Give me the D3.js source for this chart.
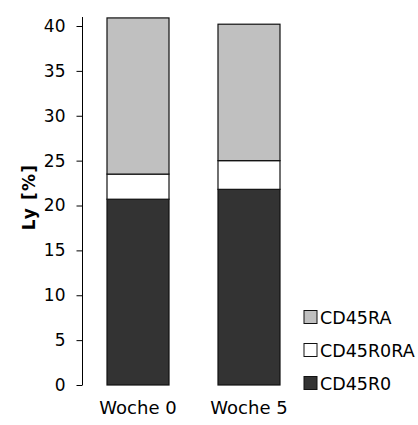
<!DOCTYPE html>
<html>
<head>
<meta charset="utf-8">
<script src="https://cdn.jsdelivr.net/npm/d3@7"></script>
<style>
  html, body { margin: 0; padding: 0; background: #fff; }
  svg { display: block; }
  text { font-family: "DejaVu Sans", Verdana, sans-serif; fill: #000; }
</style>
</head>
<body>
<div id="chart"></div>
<script>
// Lymphocyte subsets, stacked per week
const groups = ["Woche 0", "Woche 5"];
const seriesNames = ["CD45R0", "CD45R0RA", "CD45RA"];
const cd45r0 = [20.7, 21.8];
const cd45r0ra = [2.8, 3.2];
const cd45ra = [17.4, 15.2];
const yTicks = [0, 5, 10, 15, 20, 25, 30, 35, 40];
const colors = ["#333333", "#ffffff", "#c0c0c0"];

const W = 418, H = 425;
const svg = d3.select("#chart").append("svg").attr("width", W).attr("height", H);

const rows = groups.map((g, i) => ({ group: g, CD45R0: cd45r0[i], CD45R0RA: cd45r0ra[i], CD45RA: cd45ra[i] }));
const stacked = d3.stack().keys(seriesNames)(rows);

const y = d3.scaleLinear().domain([0, 40]).range([385, 26]);
const x = d3.scaleBand().domain(groups).range([107, 280]).paddingInner(0.4414).paddingOuter(0);

// bars
svg.append("g").selectAll("g").data(stacked).join("g")
  .attr("fill", (d, i) => colors[i])
  .selectAll("rect").data(d => d).join("rect")
  .attr("x", d => x(d.data.group))
  .attr("width", x.bandwidth())
  .attr("y", d => y(d[1]))
  .attr("height", d => y(d[0]) - y(d[1]))
  .attr("stroke", "#111")
  .attr("stroke-width", 1.2);

// y axis
const yAxis = svg.append("g").attr("transform", "translate(82.5,0)")
  .call(d3.axisLeft(y).tickValues(yTicks).tickSize(6).tickPadding(11));
yAxis.select(".domain").attr("stroke", "#000").attr("d", `M0,${y(0)}V${y(41)}`);
yAxis.selectAll(".tick line").attr("stroke", "#000");
yAxis.selectAll(".tick text").attr("font-size", 17).attr("fill", "#000")
  .attr("font-family", "'DejaVu Sans', Verdana, sans-serif");

// y title
svg.append("text")
  .attr("transform", "translate(35,197) rotate(-90)")
  .attr("text-anchor", "middle")
  .attr("font-size", 17)
  .attr("font-weight", "bold")
  .attr("letter-spacing", 1.2)
  .text("Ly [%]");

// category labels
svg.append("g").selectAll("text").data(groups).join("text")
  .attr("x", d => x(d) + x.bandwidth() / 2)
  .attr("y", 414)
  .attr("text-anchor", "middle")
  .attr("font-size", 18)
  .text(d => d);

// legend (top entry = top of stack)
const legendItems = seriesNames.slice().reverse();
const lg = svg.append("g").selectAll("g").data(legendItems).join("g")
  .attr("transform", (d, i) => `translate(304,${317 + i * 33})`);
lg.append("rect")
  .attr("y", -6.5)
  .attr("width", 13).attr("height", 13)
  .attr("fill", d => colors[seriesNames.indexOf(d)])
  .attr("stroke", "#111").attr("stroke-width", 1);
lg.append("text")
  .attr("x", 16).attr("y", 6.5)
  .attr("font-size", 17.5)
  .text(d => d);
</script>
</body>
</html>
